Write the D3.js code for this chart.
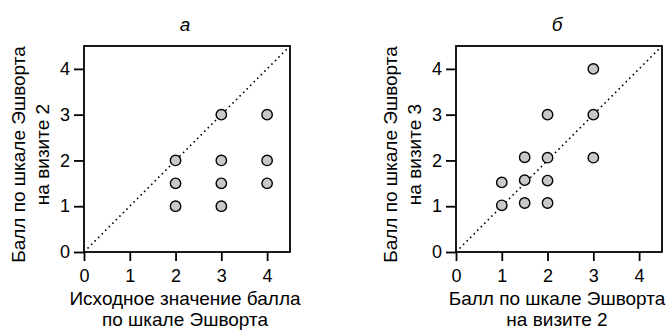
<!DOCTYPE html>
<html>
<head>
<meta charset="utf-8">
<script src="https://cdn.jsdelivr.net/npm/d3@7"></script>
<style>
  body { margin: 0; background: #fff; }
  svg text { font-family: "Liberation Sans", Arial, sans-serif; fill: #000; }
</style>
</head>
<body>
<svg id="chart" width="670" height="330"></svg>
<script>
// панель а: исходный балл vs визит 2
const baselineA = [2, 2, 2, 3, 3, 3, 3, 4, 4, 4];
const visit2A = [1, 1.5, 2, 1, 1.5, 2, 3, 1.5, 2, 3];
// панель б: визит 2 vs визит 3
const visit2B = [1, 1, 1.5, 1.5, 1.5, 2, 2, 2, 2, 3, 3, 3];
const visit3B = [1.02, 1.52, 1.07, 1.57, 2.07, 1.07, 1.56, 2.06, 3, 2.06, 3, 4];
const tickValues = [0, 1, 2, 3, 4];

const panels = [
  { left: 84, title: "а", xs: baselineA, ys: visit2A,
    xLabel: ["Исходное значение балла", "по шкале Эшворта"],
    yLabel: ["Балл по шкале Эшворта", "на визите 2"] },
  { left: 456, title: "б", xs: visit2B, ys: visit3B,
    xLabel: ["Балл по шкале Эшворта", "на визите 2"],
    yLabel: ["Балл по шкале Эшворта", "на визите 3"] }
];

const boxTop = 46, size = 206;
const svg = d3.select("#chart");

panels.forEach((p) => {
  const x = d3.scaleLinear().domain([0, 4.5]).range([p.left, p.left + size]);
  const y = d3.scaleLinear().domain([0, 4.5]).range([boxTop + size, boxTop]);
  const g = svg.append("g");

  // рамка
  g.append("rect")
    .attr("x", p.left).attr("y", boxTop)
    .attr("width", size).attr("height", size)
    .attr("fill", "none").attr("stroke", "#000").attr("stroke-width", 1.8);

  const xAxis = g.append("g")
    .attr("transform", `translate(0,${boxTop + size})`)
    .call(d3.axisBottom(x).tickValues(tickValues).tickSize(9).tickPadding(8).tickFormat(d3.format("d")));
  const yAxis = g.append("g")
    .attr("transform", `translate(${p.left},0)`)
    .call(d3.axisLeft(y).tickValues(tickValues).tickSize(10).tickPadding(4).tickFormat(d3.format("d")));
  [xAxis, yAxis].forEach((a) => {
    a.select(".domain").remove();
    a.selectAll("line").attr("stroke", "#000").attr("stroke-width", 1.8);
    a.selectAll("text").style("font-size", "18px")
      .style("font-family", '"Liberation Sans", Arial, sans-serif').attr("fill", "#000");
  });

  // диагональ
  g.append("line")
    .attr("x1", x(0)).attr("y1", y(0))
    .attr("x2", x(4.5)).attr("y2", y(4.5))
    .attr("stroke", "#000").attr("stroke-width", 1.6)
    .attr("stroke-dasharray", "1.6,3.4");

  g.append("g").selectAll("circle")
    .data(p.xs.map((d, i) => [d, p.ys[i]]))
    .join("circle")
    .attr("cx", (d) => x(d[0]))
    .attr("cy", (d) => y(d[1]))
    .attr("r", 5.2)
    .attr("fill", "#c8c8c8")
    .attr("stroke", "#000")
    .attr("stroke-width", 1.4);

  const cx = p.left + size / 2;
  g.append("text")
    .attr("x", cx - 2).attr("y", 31)
    .attr("text-anchor", "middle")
    .style("font-size", "19px").style("font-style", "italic")
    .text(p.title);

  p.xLabel.forEach((t, i) => {
    g.append("text")
      .attr("x", cx - 2).attr("y", 305 + i * 21)
      .attr("text-anchor", "middle")
      .style("font-size", "19px")
      .text(t);
  });

  const cy = 154.5;
  p.yLabel.forEach((t, i) => {
    g.append("text")
      .attr("transform", `translate(${p.left - 59 + i * 24},${cy}) rotate(-90)`)
      .attr("text-anchor", "middle")
      .style("font-size", "19px")
      .text(t);
  });
});
</script>
</body>
</html>
